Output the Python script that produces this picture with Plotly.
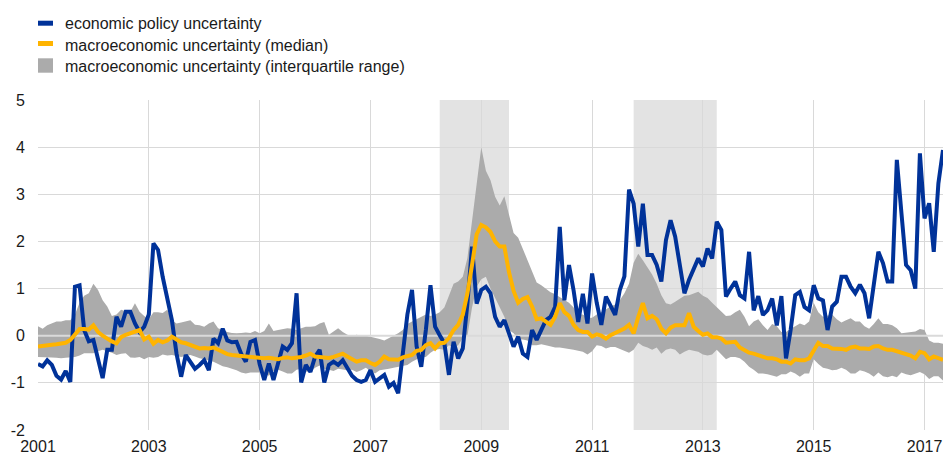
import plotly.graph_objects as go

# ---------------- data (monthly, Jan 2001 onwards) ----------------
start_year = 2001
tick_years = [2001, 2003, 2005, 2007, 2009, 2011, 2013, 2015, 2017]
y_ticks = [-2, -1, 0, 1, 2, 3, 4, 5]

epu = [
    -0.60, -0.65, -0.52, -0.62, -0.85, -0.93, -0.75, -0.98, 1.04, 1.07, 0.12, -0.12,
    -0.09, -0.50, -0.90, -0.30, -0.30, 0.40, 0.19, 0.51, 0.51, 0.26, 0.08, 0.19,
    0.45, 1.96, 1.82, 1.25, 0.80, 0.33, -0.38, -0.87, -0.41, -0.55, -0.70, -0.62,
    -0.52, -0.73, -0.06, -0.16, 0.15, -0.10, -0.14, -0.13, -0.38, -0.55, -0.13, -0.09,
    -0.60, -0.94, -0.59, -0.94, -0.55, -0.23, -0.30, -0.16, 0.90, -0.99, -0.62, -0.77,
    -0.45, -0.30, -0.99, -0.62, -0.55, -0.62, -0.52, -0.70, -0.85, -0.94, -0.98, -0.94,
    -0.73, -0.98, -0.90, -0.83, -1.08, -1.00, -1.22, -0.40, 0.45, 0.97, -0.23, -0.66,
    0.12, 1.07, 0.19, 0.01, -0.16, -0.83, -0.13, -0.48, -0.27, 0.68, 1.89, 0.68,
    0.97, 1.04, 0.90, 0.40, 0.19, 0.33, 0.05, -0.23, -0.02, -0.38, -0.45, 0.12,
    -0.09, 0.12, 0.33, 0.40, 0.61, 2.31, 0.75, 1.50, 0.96, 0.29, 0.89, 0.26,
    1.32, 0.70, 0.23, 0.83, 0.62, 0.44, 0.97, 1.26, 3.10, 2.80, 1.89, 2.80,
    1.71, 1.71, 1.50, 1.15, 2.03, 2.45, 2.10, 1.54, 0.90, 1.19, 1.43, 1.64,
    1.47, 1.85, 1.64, 2.42, 2.24, 0.83, 1.00, 1.15, 0.86, 0.79, 1.78, 0.54,
    0.84, 0.44, 0.54, 0.79, 0.22, 0.84, -0.48, 0.12, 0.86, 0.93, 0.61, 0.54,
    1.07, 0.79, 0.75, 0.12, 0.62, 0.72, 1.25, 1.25, 1.04, 0.90, 1.08, 0.90,
    0.37, 1.15, 1.78, 1.54, 1.15, 1.15, 3.73, 2.60, 1.50, 1.39, 1.00, 3.87,
    2.49, 2.81, 1.78, 3.23, 3.94,
]

macro_median = [
    -0.23, -0.21, -0.20, -0.19, -0.18, -0.17, -0.15, -0.09, 0.02, 0.14, 0.14, 0.13,
    0.22, 0.08, 0.00, -0.07, -0.12, -0.16, -0.03, 0.02, 0.05, 0.07, 0.12, -0.08,
    -0.02, -0.17, -0.09, -0.14, -0.10, -0.02, -0.08, -0.14, -0.16, -0.20, -0.23, -0.27,
    -0.26, -0.27, -0.25, -0.30, -0.36, -0.39, -0.41, -0.42, -0.45, -0.45, -0.45, -0.47,
    -0.48, -0.48, -0.47, -0.49, -0.50, -0.47, -0.46, -0.48, -0.47, -0.45, -0.42, -0.38,
    -0.44, -0.45, -0.45, -0.47, -0.45, -0.41, -0.38, -0.44, -0.50, -0.55, -0.52, -0.52,
    -0.58, -0.62, -0.55, -0.44, -0.50, -0.50, -0.51, -0.46, -0.44, -0.41, -0.32, -0.30,
    -0.20, -0.16, -0.27, -0.16, -0.15, -0.05, 0.12, 0.23, 0.45, 0.90, 1.50, 2.15,
    2.35, 2.30, 2.20, 2.00, 1.89, 1.89, 1.35, 0.95, 0.70, 0.78, 0.82, 0.62,
    0.35, 0.37, 0.30, 0.23, 0.40, 0.69, 0.50, 0.42, 0.23, 0.12, 0.08, 0.08,
    -0.02, 0.03, 0.00, -0.06, 0.01, 0.05, 0.10, 0.15, 0.23, 0.05, 0.40, 0.69,
    0.37, 0.42, 0.35, 0.15, 0.05, 0.17, 0.22, 0.22, 0.22, 0.48, 0.19, 0.10,
    0.02, 0.05, -0.03, -0.03, -0.06, -0.15, -0.15, -0.13, -0.25, -0.30, -0.36, -0.38,
    -0.41, -0.45, -0.48, -0.48, -0.50, -0.55, -0.55, -0.59, -0.50, -0.52, -0.52, -0.48,
    -0.30, -0.15, -0.22, -0.22, -0.27, -0.27, -0.28, -0.30, -0.25, -0.23, -0.27, -0.27,
    -0.28, -0.23, -0.22, -0.27, -0.30, -0.30, -0.33, -0.36, -0.37, -0.42, -0.48, -0.34,
    -0.37, -0.50, -0.44, -0.48, -0.51,
]

macro_q75 = [
    0.20, 0.15, 0.22, 0.26, 0.30, 0.30, 0.33, 0.33, 0.45, 0.70, 0.85, 0.90,
    1.10, 0.97, 0.75, 0.62, 0.42, 0.45, 0.55, 0.52, 0.51, 0.69, 0.51, 0.42,
    0.35, 0.50, 0.50, 0.48, 0.55, 0.33, 0.26, 0.28, 0.30, 0.33, 0.23, 0.22,
    0.19, 0.26, 0.30, 0.16, 0.12, 0.08, 0.06, 0.05, 0.06, 0.07, 0.06, 0.10,
    0.05, 0.10, 0.26, 0.10, 0.12, 0.14, 0.16, 0.15, 0.12, 0.16, 0.19, 0.19,
    0.20, 0.26, 0.29, 0.02, 0.10, 0.16, 0.08, 0.02, 0.00, 0.02, 0.00, 0.00,
    -0.02, -0.04, -0.07, -0.10, -0.05, 0.00, 0.05, 0.12, 0.25, 0.30, 0.35, 0.40,
    0.45, 0.42, 0.45, 0.50, 0.60, 0.85, 1.10, 1.15, 1.25, 1.65, 2.45, 3.20,
    4.00, 3.50, 3.30, 2.95, 2.76, 2.96, 2.55, 2.18, 2.08, 1.85, 1.60, 1.35,
    1.13, 1.07, 1.00, 0.92, 0.88, 0.82, 0.75, 0.70, 0.60, 0.45, 0.45, 0.38,
    0.38, 0.45, 0.50, 0.56, 0.62, 0.66, 0.75, 0.90, 1.10, 1.55, 1.74, 1.60,
    1.45, 1.30, 1.10, 0.86, 0.69, 0.66, 0.72, 0.78, 0.85, 0.86, 0.90, 0.93,
    0.85, 0.80, 0.70, 0.60, 0.50, 0.42, 0.43, 0.50, 0.55, 0.40, 0.20, 0.30,
    0.35, 0.22, 0.12, 0.25, 0.20, 0.08, 0.08, 0.15, 0.20, 0.26, 0.22, 0.30,
    0.70, 0.50, 0.40, 0.42, 0.45, 0.35, 0.28, 0.33, 0.37, 0.30, 0.30, 0.20,
    0.15, 0.25, 0.37, 0.25, 0.25, 0.22, 0.16, 0.05, 0.06, 0.07, 0.09, 0.14,
    0.12, -0.10, -0.15, -0.15, -0.17,
]

macro_q25 = [
    -0.45, -0.45, -0.45, -0.46, -0.47, -0.48, -0.47, -0.46, -0.45, -0.42, -0.37, -0.37,
    -0.37, -0.33, -0.30, -0.33, -0.36, -0.41, -0.38, -0.37, -0.46, -0.47, -0.45, -0.50,
    -0.45, -0.47, -0.45, -0.40, -0.42, -0.41, -0.43, -0.45, -0.43, -0.41, -0.44, -0.48,
    -0.50, -0.52, -0.55, -0.60, -0.65, -0.67, -0.70, -0.73, -0.78, -0.80, -0.78, -0.78,
    -0.78, -0.80, -0.85, -0.75, -0.72, -0.76, -0.80, -0.80, -0.72, -0.70, -0.76, -0.77,
    -0.68, -0.63, -0.70, -0.72, -0.75, -0.70, -0.72, -0.73, -0.72, -0.77, -0.73, -0.68,
    -0.75, -0.80, -0.73, -0.72, -0.70, -0.68, -0.66, -0.65, -0.62, -0.55, -0.50, -0.45,
    -0.45, -0.36, -0.30, -0.28, -0.30, -0.20, -0.25, -0.20, -0.05, 0.00, 0.60, 1.04,
    1.20, 1.25, 1.00, 0.80, 0.60, 0.40, 0.12, 0.05, -0.08, -0.08, -0.10, -0.20,
    -0.20, -0.18, -0.20, -0.22, -0.25, -0.25, -0.26, -0.28, -0.30, -0.32, -0.34, -0.40,
    -0.33, -0.20, -0.22, -0.27, -0.24, -0.24, -0.28, -0.32, -0.36, -0.30, -0.15, -0.22,
    -0.25, -0.30, -0.25, -0.38, -0.30, -0.27, -0.30, -0.40, -0.34, -0.30, -0.32, -0.34,
    -0.40, -0.42, -0.40, -0.30, -0.40, -0.50, -0.45, -0.45, -0.48, -0.55, -0.66, -0.72,
    -0.80, -0.80, -0.82, -0.85, -0.87, -0.82, -0.82, -0.76, -0.80, -0.87, -0.80, -0.80,
    -0.50, -0.60, -0.68, -0.70, -0.73, -0.72, -0.68, -0.72, -0.80, -0.80, -0.73, -0.76,
    -0.80, -0.87, -0.78, -0.86, -0.88, -0.85, -0.88, -0.78, -0.82, -0.84, -0.80, -0.77,
    -0.82, -0.92, -0.86, -0.86, -0.95,
]

recessions = [(2008.25, 2009.5), (2011.75, 2013.25)]

labels = [
    "economic policy uncertainty",
    "macroeconomic uncertainty (median)",
    "macroeconomic uncertainty (interquartile range)",
]

# ---------------- styling ----------------
BLUE = "#003299"
YELLOW = "#ffb400"
BAND = "#ababab"
SHADE = "#e3e3e3"
GRID = "#d9d9d9"
FONT = "Liberation Sans, Arial, sans-serif"
TXT = "#1a1a1a"

x = [start_year + i / 12 for i in range(len(epu))]

fig = go.Figure()

for a, b in recessions:
    fig.add_vrect(x0=a, x1=b, fillcolor=SHADE, opacity=1, line_width=0, layer="below")

fig.add_trace(go.Scatter(x=x, y=macro_q25, mode="lines", line=dict(width=0, color=BAND),
                         hoverinfo="skip", showlegend=False))
fig.add_trace(go.Scatter(x=x, y=macro_q75, mode="lines", line=dict(width=0, color=BAND),
                         fill="tonexty", fillcolor=BAND, showlegend=False))
# zero reference line drawn over the band
fig.add_trace(go.Scatter(x=[x[0], x[-1]], y=[0, 0], mode="lines",
                         line=dict(width=2, color="#dadada"), hoverinfo="skip", showlegend=False))
fig.add_trace(go.Scatter(x=x, y=epu, mode="lines", line=dict(width=4, color=BLUE),
                         showlegend=False))
fig.add_trace(go.Scatter(x=x, y=macro_median, mode="lines", line=dict(width=4, color=YELLOW),
                         showlegend=False))

# ---------------- custom legend (top-left) ----------------
W, H = 943, 456
ML, MR, MT, MB = 38, 0, 100, 26
pw, ph = W - ML - MR, H - MT - MB


def px2paper_x(px):
    return (px - ML) / pw


def px2paper_y(py):
    return (H - MB - py) / ph


legend_items = [
    (labels[0], BLUE, 20.7, 25.7, 23.5),
    (labels[1], YELLOW, 41.0, 46.0, 45.5),
    (labels[2], BAND, 58.3, 72.7, 67.0),
]
for text, col, ytop, ybot, ytext in legend_items:
    fig.add_shape(type="rect", xref="paper", yref="paper",
                  x0=px2paper_x(38), x1=px2paper_x(53),
                  y0=px2paper_y(ybot), y1=px2paper_y(ytop),
                  fillcolor=col, line_width=0)
    fig.add_annotation(xref="paper", yref="paper", x=px2paper_x(63), y=px2paper_y(ytext),
                       xanchor="left", yanchor="middle", showarrow=False, text=text,
                       font=dict(family=FONT, size=16, color=TXT))

fig.update_layout(
    width=W, height=H,
    margin=dict(l=ML, r=MR, t=MT, b=MB, pad=0, autoexpand=False),
    plot_bgcolor="white", paper_bgcolor="white",
    showlegend=False,
    font=dict(family=FONT, size=16, color=TXT),
)
fig.update_xaxes(range=[x[0], x[-1]], tickmode="array", tickvals=tick_years,
                 ticktext=[str(t) for t in tick_years], showgrid=True, gridcolor=GRID,
                 gridwidth=1, zeroline=False, showline=False, ticks="", automargin=False,
                 ticklabelstandoff=5, tickfont=dict(family=FONT, size=16, color=TXT))
fig.update_yaxes(range=[-2, 5], tickmode="array", tickvals=y_ticks,
                 ticktext=[str(t) for t in y_ticks], showgrid=True, gridcolor=GRID,
                 gridwidth=1, zeroline=False, showline=False, ticks="", automargin=False,
                 ticklabelstandoff=12, tickfont=dict(family=FONT, size=16, color=TXT))

fig.write_html("out.html", config={"displayModeBar": False, "staticPlot": True},
               post_script="document.body.style.margin='0px';document.body.style.overflow='hidden';")
